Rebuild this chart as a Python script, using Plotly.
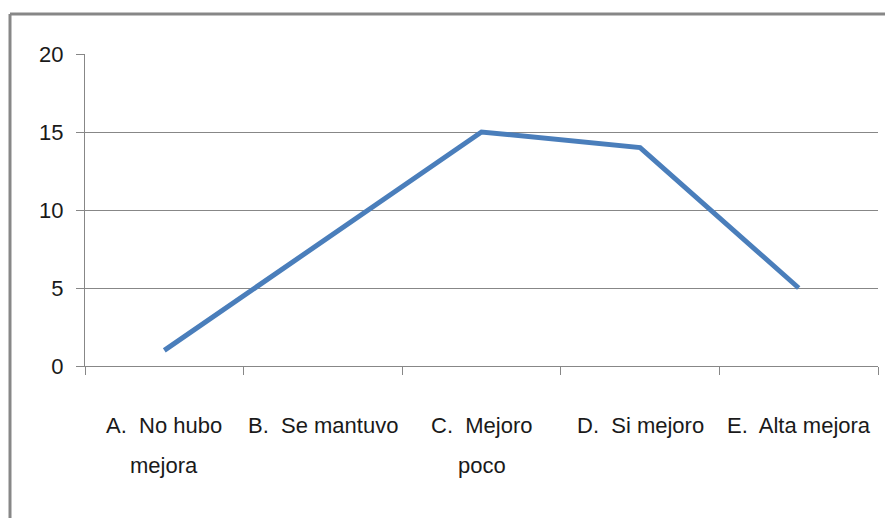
import plotly.graph_objects as go

categories = ["A. No hubo mejora", "B. Se mantuvo", "C. Mejoro poco", "D. Si mejoro", "E. Alta mejora"]
label_line1 = ["A.  No hubo", "B.  Se mantuvo", "C.  Mejoro", "D.  Si mejoro", "E.  Alta mejora"]
label_line2 = ["mejora", "", "poco", "", ""]
values = [1, 8, 15, 14, 5]
y_ticks = [0, 5, 10, 15, 20]

FONT = "Liberation Sans, Arial, sans-serif"
FS = 22
OFF = 8  # page body margin
W, H = 893 - OFF, 518 - OFF
L, R, T, B = 85 - OFF, 15, 54 - OFF, 152
pw, ph = W - L - R, H - T - B

fig = go.Figure()
fig.add_trace(go.Scatter(
    x=categories, y=values, mode="lines",
    line=dict(color="#4A7EBB", width=5),
    hoverinfo="x+y",
))

def py(pix_y):
    # pix_y in screen pixels
    return (H - B - (pix_y - OFF)) / ph

annotations = []
for c, l1, l2 in zip(categories, label_line1, label_line2):
    annotations.append(dict(x=c, xref="x", y=py(425), yref="paper", text=l1,
                            showarrow=False, xanchor="center", yanchor="middle",
                            font=dict(family=FONT, size=FS, color="#1a1a1a")))
    if l2:
        annotations.append(dict(x=c, xref="x", y=py(465), yref="paper", text=l2,
                                showarrow=False, xanchor="center", yanchor="middle",
                                font=dict(family=FONT, size=FS, color="#1a1a1a")))

x0 = (10 - OFF - L) / pw
y_top = py(14)
shapes = [
    dict(type="line", xref="paper", yref="paper", x0=x0, x1=1.2, y0=y_top, y1=y_top,
         line=dict(color="#878787", width=3)),
    dict(type="line", xref="paper", yref="paper", x0=x0, x1=x0, y0=y_top, y1=-1,
         line=dict(color="#878787", width=3)),
]

fig.update_layout(
    width=W, height=H,
    margin=dict(l=L, r=R, t=T, b=B, autoexpand=False),
    paper_bgcolor="white", plot_bgcolor="white",
    showlegend=False,
    annotations=annotations,
    shapes=shapes,
    xaxis=dict(
        type="category", categoryorder="array", categoryarray=categories,
        range=[-0.5, 4.5], automargin=False,
        showgrid=False, showline=True, linecolor="#878787", linewidth=1,
        ticks="outside", ticklen=8, tickcolor="#878787", tickson="boundaries",
        showticklabels=False, zeroline=False,
    ),
    yaxis=dict(
        range=[0, 20], tickvals=y_ticks, automargin=False,
        showgrid=True, gridcolor="#878787", gridwidth=1,
        showline=True, linecolor="#878787", linewidth=1,
        ticks="outside", ticklen=8, tickcolor="#878787",
        ticklabelstandoff=8,
        tickfont=dict(family=FONT, size=FS, color="#1a1a1a"),
        zeroline=False,
    ),
)

fig.write_html("out.html")
